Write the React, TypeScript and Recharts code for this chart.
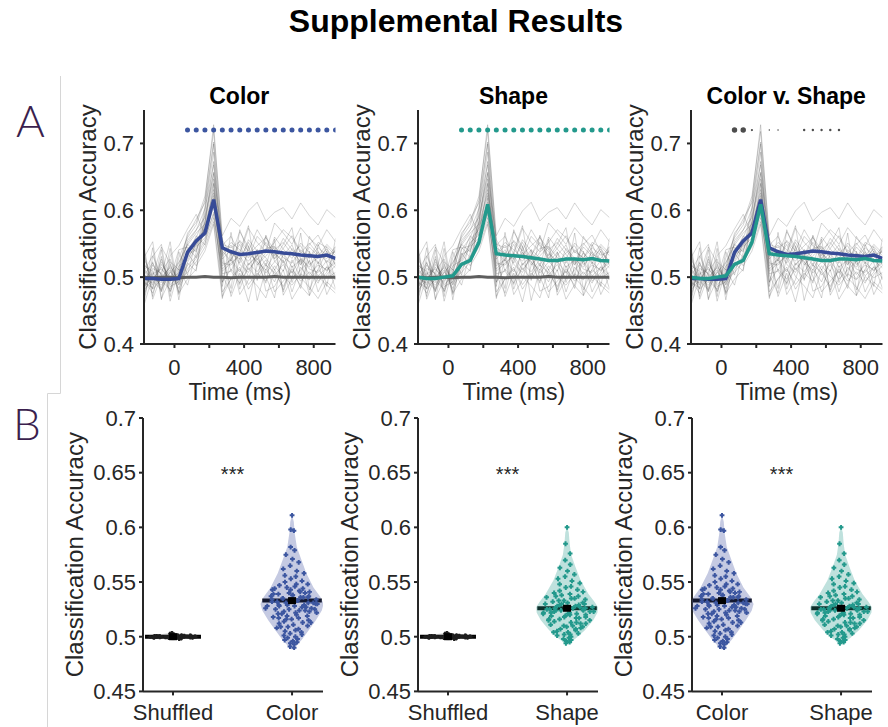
import React from 'react';
import { ComposedChart, Line, Scatter, XAxis, YAxis, ReferenceLine, ReferenceDot } from 'recharts';

// ---------- DATA ----------
const times = [-175, -125, -75, -25, 25, 75, 125, 175, 225, 275, 325, 375, 425, 475, 525, 575, 625, 675, 725, 775, 825, 875, 925];
const colorMean = [0.498, 0.498, 0.497, 0.497, 0.498, 0.537, 0.554, 0.566, 0.616, 0.544, 0.538, 0.534, 0.535, 0.537, 0.539, 0.538, 0.536, 0.535, 0.533, 0.532, 0.531, 0.533, 0.528];
const shapeMean = [0.5, 0.498, 0.498, 0.5, 0.502, 0.519, 0.525, 0.552, 0.609, 0.535, 0.533, 0.532, 0.531, 0.529, 0.527, 0.525, 0.525, 0.527, 0.527, 0.526, 0.528, 0.525, 0.524];
const shuffledMean = [0.5, 0.499, 0.5, 0.5, 0.499, 0.5, 0.5, 0.501, 0.5, 0.5, 0.499, 0.5, 0.5, 0.5, 0.5, 0.501, 0.5, 0.5, 0.5, 0.5, 0.5, 0.5, 0.5];
const subjects = [
  [0.512, 0.488, 0.523, 0.495, 0.507, 0.551, 0.57, 0.602, 0.668, 0.531, 0.548, 0.521, 0.556, 0.539, 0.517, 0.56, 0.542, 0.528, 0.551, 0.537, 0.52, 0.546, 0.532],
  [0.486, 0.507, 0.478, 0.519, 0.492, 0.529, 0.548, 0.583, 0.641, 0.512, 0.527, 0.549, 0.518, 0.532, 0.561, 0.524, 0.509, 0.543, 0.528, 0.515, 0.538, 0.522, 0.541],
  [0.503, 0.521, 0.494, 0.482, 0.515, 0.562, 0.587, 0.611, 0.702, 0.548, 0.561, 0.534, 0.573, 0.552, 0.538, 0.581, 0.566, 0.549, 0.574, 0.558, 0.546, 0.571, 0.553],
  [0.495, 0.476, 0.509, 0.527, 0.488, 0.518, 0.531, 0.556, 0.597, 0.493, 0.512, 0.497, 0.521, 0.508, 0.526, 0.503, 0.519, 0.497, 0.511, 0.524, 0.502, 0.515, 0.498],
  [0.527, 0.501, 0.488, 0.507, 0.522, 0.548, 0.566, 0.579, 0.626, 0.539, 0.524, 0.555, 0.539, 0.571, 0.549, 0.532, 0.558, 0.541, 0.522, 0.549, 0.563, 0.537, 0.525],
  [0.481, 0.496, 0.515, 0.489, 0.501, 0.534, 0.541, 0.568, 0.612, 0.527, 0.541, 0.519, 0.507, 0.533, 0.552, 0.538, 0.521, 0.536, 0.547, 0.519, 0.529, 0.542, 0.517],
  [0.509, 0.532, 0.501, 0.514, 0.478, 0.541, 0.559, 0.592, 0.655, 0.556, 0.532, 0.568, 0.545, 0.518, 0.537, 0.552, 0.571, 0.559, 0.536, 0.551, 0.534, 0.528, 0.546],
  [0.492, 0.484, 0.519, 0.501, 0.496, 0.507, 0.523, 0.545, 0.583, 0.478, 0.497, 0.512, 0.489, 0.506, 0.494, 0.517, 0.501, 0.488, 0.505, 0.496, 0.511, 0.499, 0.507],
  [0.517, 0.509, 0.483, 0.523, 0.511, 0.566, 0.582, 0.621, 0.718, 0.562, 0.588, 0.576, 0.599, 0.612, 0.584, 0.597, 0.604, 0.587, 0.611, 0.592, 0.578, 0.601, 0.589],
  [0.474, 0.513, 0.506, 0.492, 0.517, 0.525, 0.552, 0.563, 0.606, 0.521, 0.518, 0.536, 0.524, 0.541, 0.529, 0.511, 0.533, 0.548, 0.519, 0.536, 0.523, 0.509, 0.527],
  [0.498, 0.491, 0.527, 0.486, 0.493, 0.543, 0.547, 0.574, 0.631, 0.544, 0.535, 0.527, 0.552, 0.526, 0.543, 0.546, 0.529, 0.521, 0.541, 0.528, 0.552, 0.544, 0.519],
  [0.521, 0.498, 0.492, 0.511, 0.483, 0.512, 0.528, 0.551, 0.589, 0.505, 0.509, 0.491, 0.514, 0.497, 0.518, 0.507, 0.486, 0.512, 0.494, 0.508, 0.491, 0.516, 0.503],
  [0.489, 0.518, 0.504, 0.479, 0.506, 0.555, 0.571, 0.589, 0.647, 0.534, 0.552, 0.541, 0.529, 0.561, 0.547, 0.527, 0.543, 0.562, 0.538, 0.529, 0.544, 0.533, 0.538],
  [0.506, 0.482, 0.497, 0.516, 0.498, 0.531, 0.562, 0.548, 0.618, 0.517, 0.526, 0.508, 0.537, 0.522, 0.511, 0.535, 0.524, 0.506, 0.529, 0.512, 0.507, 0.525, 0.514],
  [0.484, 0.505, 0.512, 0.498, 0.521, 0.549, 0.538, 0.581, 0.673, 0.549, 0.544, 0.553, 0.533, 0.547, 0.559, 0.541, 0.552, 0.534, 0.518, 0.545, 0.531, 0.549, 0.536],
  [0.513, 0.494, 0.481, 0.508, 0.489, 0.522, 0.545, 0.559, 0.594, 0.509, 0.521, 0.532, 0.511, 0.528, 0.506, 0.523, 0.537, 0.515, 0.526, 0.504, 0.518, 0.511, 0.522],
  [0.462, 0.531, 0.549, 0.471, 0.538, 0.503, 0.556, 0.571, 0.622, 0.471, 0.498, 0.515, 0.482, 0.503, 0.521, 0.478, 0.494, 0.509, 0.487, 0.472, 0.501, 0.488, 0.476],
  [0.548, 0.467, 0.503, 0.553, 0.474, 0.521, 0.509, 0.598, 0.687, 0.503, 0.476, 0.529, 0.501, 0.487, 0.469, 0.512, 0.481, 0.526, 0.499, 0.485, 0.468, 0.493, 0.481],
  [0.477, 0.544, 0.466, 0.532, 0.547, 0.572, 0.594, 0.562, 0.639, 0.486, 0.567, 0.489, 0.547, 0.465, 0.512, 0.493, 0.526, 0.478, 0.515, 0.497, 0.523, 0.474, 0.501],
  [0.535, 0.482, 0.541, 0.464, 0.512, 0.488, 0.537, 0.605, 0.699, 0.529, 0.483, 0.571, 0.536, 0.524, 0.491, 0.557, 0.473, 0.498, 0.566, 0.481, 0.512, 0.539, 0.496],
  [0.469, 0.523, 0.479, 0.543, 0.466, 0.536, 0.517, 0.539, 0.579, 0.468, 0.531, 0.474, 0.496, 0.541, 0.479, 0.486, 0.511, 0.467, 0.489, 0.526, 0.478, 0.504, 0.517],
  [0.541, 0.471, 0.531, 0.478, 0.529, 0.559, 0.578, 0.615, 0.728, 0.552, 0.509, 0.538, 0.577, 0.495, 0.563, 0.528, 0.549, 0.574, 0.501, 0.561, 0.539, 0.486, 0.558],
  [0.458, 0.502, 0.545, 0.521, 0.476, 0.497, 0.512, 0.583, 0.657, 0.492, 0.538, 0.482, 0.519, 0.533, 0.501, 0.469, 0.538, 0.492, 0.527, 0.473, 0.549, 0.521, 0.483],
  [0.529, 0.553, 0.468, 0.497, 0.541, 0.545, 0.529, 0.576, 0.609, 0.538, 0.471, 0.506, 0.463, 0.518, 0.532, 0.545, 0.478, 0.517, 0.483, 0.539, 0.494, 0.507, 0.545],
];
const sigTimesColor = [75, 125, 175, 225, 275, 325, 375, 425, 475, 525, 575, 625, 675, 725, 775, 825, 875, 925];
const sigTimesShape = [75, 125, 175, 225, 275, 325, 375, 425, 475, 525, 575, 625, 675, 725, 775, 825, 875, 925];
const sigTimesCvS = [75, 125, 175, 275, 325, 475, 525, 575, 625, 675];
const sigSizesCvS = [2.7, 2.7, 1.1, 0.8, 0.8, 1.2, 1.2, 1.2, 1.2, 1.2];
const sigLevel = 0.72;
const timeTicks = [0, 200, 400, 600, 800];
const timeTickLabels = ['0', '', '400', '', '800'];
const accTicksTop = [0.4, 0.5, 0.6, 0.7];
const accTicksBottom = [0.45, 0.5, 0.55, 0.6, 0.65, 0.7];

const colorAcc = [0.611, 0.598, 0.597, 0.582, 0.579, 0.575, 0.571, 0.568, 0.565, 0.562, 0.56, 0.558, 0.556, 0.555, 0.553, 0.551, 0.55, 0.548, 0.547, 0.546, 0.545, 0.544, 0.543, 0.542, 0.541, 0.54, 0.539, 0.538, 0.537, 0.537, 0.536, 0.535, 0.534, 0.534, 0.533, 0.532, 0.531, 0.531, 0.53, 0.529, 0.528, 0.528, 0.527, 0.526, 0.525, 0.525, 0.524, 0.523, 0.522, 0.521, 0.52, 0.519, 0.518, 0.517, 0.516, 0.515, 0.514, 0.513, 0.512, 0.511, 0.51, 0.509, 0.508, 0.507, 0.506, 0.505, 0.504, 0.503, 0.502, 0.501, 0.5, 0.499, 0.498, 0.497, 0.496, 0.495, 0.494, 0.493, 0.491, 0.49, 0.543, 0.541, 0.539, 0.536, 0.535, 0.533, 0.532, 0.53, 0.529, 0.527, 0.526, 0.524, 0.523, 0.521, 0.538, 0.534, 0.529, 0.525, 0.519, 0.517, 0.536, 0.531, 0.528, 0.522, 0.544, 0.54, 0.516, 0.513, 0.509, 0.548];
const shapeAcc = [0.6, 0.585, 0.576, 0.57, 0.566, 0.563, 0.56, 0.557, 0.555, 0.553, 0.551, 0.549, 0.548, 0.546, 0.545, 0.543, 0.542, 0.541, 0.54, 0.539, 0.538, 0.537, 0.536, 0.535, 0.534, 0.533, 0.532, 0.531, 0.53, 0.53, 0.529, 0.528, 0.527, 0.527, 0.526, 0.525, 0.525, 0.524, 0.523, 0.523, 0.522, 0.521, 0.521, 0.52, 0.519, 0.518, 0.517, 0.516, 0.515, 0.514, 0.513, 0.512, 0.511, 0.51, 0.509, 0.508, 0.507, 0.506, 0.505, 0.504, 0.503, 0.502, 0.501, 0.5, 0.499, 0.498, 0.497, 0.496, 0.495, 0.494, 0.528, 0.526, 0.524, 0.522, 0.52, 0.518, 0.529, 0.527, 0.525, 0.523, 0.519, 0.517, 0.515, 0.531, 0.533, 0.535, 0.537, 0.512, 0.51, 0.507, 0.504, 0.502, 0.526, 0.524, 0.521, 0.516, 0.513, 0.509, 0.53, 0.522];
const shuffledAcc = [0.5006, 0.4998, 0.5012, 0.4993, 0.5003, 0.4989, 0.5017, 0.5001, 0.4996, 0.5009, 0.4984, 0.5004, 0.4999, 0.5014, 0.4991, 0.5002, 0.5028, 0.4995, 0.5007, 0.4987, 0.5, 0.5011, 0.4997, 0.5005, 0.4992, 0.5019, 0.4994, 0.5003, 0.4981, 0.5008, 0.4998, 0.5036, 0.5001, 0.499, 0.5013, 0.4996, 0.5004, 0.4986, 0.501, 0.4999, 0.5022, 0.4993, 0.5002, 0.4978, 0.5006, 0.4997, 0.5015, 0.5, 0.4988, 0.5005];
const jitter = [0.12, -0.64, 0.85, -0.33, 0.47, -0.91, 0.05, 0.72, -0.18, -0.77, 0.39, 0.93, -0.52, 0.26, -0.08, 0.61, -0.42, 0.88, -0.69, 0.15, -0.27, 0.54, -0.95, 0.34, 0.79, -0.13, -0.58, 0.02, 0.67, -0.84, 0.44, -0.36, 0.91, -0.05, 0.21, -0.73, 0.58, -0.22, 0.83, -0.47, 0.09, -0.89, 0.36, 0.71, -0.61, -0.11, 0.49, -0.31, 0.96, -0.56, 0.18, 0.64, -0.81, 0.29, -0.02, 0.77, -0.39, 0.53, -0.67, 0.07, 0.87, -0.24, -0.93, 0.41, 0.23, -0.49, 0.69, -0.15, 0.81, -0.71, 0.31, -0.44, 0.59, -0.86, 0.11, 0.74, -0.28, 0.46, -0.63, 0.97, -0.07, 0.37, -0.79, 0.62, -0.35, 0.19, -0.54, 0.89, -0.17, 0.51, -0.97, 0.27, 0.66, -0.41, 0.03, -0.75, 0.43, 0.84, -0.21, -0.59, 0.33, 0.76, -0.46, 0.14, -0.87, 0.57, -0.26, 0.94, -0.66, 0.24];

const colorViolinY = [0.488, 0.491, 0.497, 0.506, 0.515, 0.524, 0.53, 0.536, 0.545, 0.558, 0.57, 0.582, 0.595, 0.605, 0.612];
const colorViolinW = [0, 0.03, 0.08, 0.14, 0.2, 0.25, 0.265, 0.24, 0.18, 0.12, 0.08, 0.04, 0.022, 0.015, 0];
const shapeViolinY = [0.493, 0.495, 0.499, 0.506, 0.515, 0.522, 0.527, 0.532, 0.539, 0.5515, 0.564, 0.575, 0.585, 0.595, 0.601];
const shapeViolinW = [0, 0.03, 0.08, 0.15, 0.22, 0.255, 0.26, 0.23, 0.18, 0.115, 0.07, 0.035, 0.022, 0.015, 0];
const shuffledViolinY = [0.4965, 0.4978, 0.4988, 0.5, 0.5012, 0.5022, 0.5035, 0.5045];
const shuffledViolinW = [0, 0.08, 0.19, 0.235, 0.19, 0.1, 0.03, 0];
const colorGroupMean = 0.533;
const shapeGroupMean = 0.526;
const shuffledGroupMean = 0.5;
const starLevel = 0.649;

// ---------- STYLE ----------
const FONT = '"Liberation Sans", Arial, Helvetica, sans-serif';
const AX = '#262626';
const BLUE = '#374b97';
const BLUE_PT = '#3c56a0';
const TEAL = '#23998c';
const GRAY_MEAN = '#5e5e5e';
const TOP_YW = 84;
const BOT_YW = 92;

function halfWidthAt(vy: number[], vw: number[], y: number) {
  if (y <= vy[0] || y >= vy[vy.length - 1]) return 0;
  for (let i = 1; i < vy.length; i++) {
    if (y <= vy[i]) {
      const f = (y - vy[i - 1]) / (vy[i] - vy[i - 1]);
      return vw[i - 1] + f * (vw[i] - vw[i - 1]);
    }
  }
  return 0;
}

const yLabel = (fromAxis: number) => (props: any) => {
  const vb = props.viewBox || {};
  const x = vb.x + vb.width - fromAxis;
  const y = vb.y + vb.height / 2;
  return (
    <text x={x} y={y} transform={`rotate(-90, ${x}, ${y})`} textAnchor="middle" fontSize={24} fill={AX} fontFamily={FONT}>
      Classification Accuracy
    </text>
  );
};

const xLabel = (props: any) => {
  const vb = props.viewBox || {};
  return (
    <text x={vb.x + vb.width / 2} y={vb.y + 56} textAnchor="middle" fontSize={23} fill={AX} fontFamily={FONT}>
      Time (ms)
    </text>
  );
};

const SigDot = (p: any) => <circle cx={p.cx} cy={p.cy} r={p.payload.r} fill={p.fill} />;
const Empty = () => <g />;
const Plus = (p: any) => {
  const s = p.payload.s;
  return <path d={`M${p.cx - s},${p.cy}H${p.cx + s}M${p.cx},${p.cy - s}V${p.cy + s}`} stroke={p.fill} strokeWidth={2} />;
};
const MeanMark = (p: any) => <rect x={p.cx - 4} y={p.cy - 3.5} width={8} height={7} fill="#000" />;

const axisCommon = {
  stroke: AX,
  axisLine: { stroke: AX, strokeWidth: 2 },
  tickLine: { stroke: AX, strokeWidth: 2 },
  tickSize: 4,
};

type MeanSpec = { key: string; color: string };

function TopPanel(props: { left: number; means: MeanSpec[]; showShuffled: boolean; sigTimes: number[]; sigSizes: number[]; sigColor: string }) {
  const { left, means, showShuffled, sigTimes, sigSizes, sigColor } = props;
  const rows = times.map((t, i) => {
    const r: any = { t, shuf: shuffledMean[i], color: colorMean[i], shape: shapeMean[i] };
    subjects.forEach((s, j) => {
      r['s' + j] = s[i];
    });
    return r;
  });
  const sigData = sigTimes.map((t, i) => ({ t, sig: sigLevel, r: sigSizes[i] }));
  return (
    <div style={{ position: 'absolute', left: left - TOP_YW, top: 90 }}>
      <ComposedChart width={TOP_YW + 191.5 + 12} height={324} data={rows} margin={{ top: 20, right: 12, left: 0, bottom: 0 }}>
        <XAxis
          type="number"
          dataKey="t"
          domain={[-175, 925]}
          allowDataOverflow
          ticks={timeTicks}
          interval={0}
          tickFormatter={(v: number) => timeTickLabels[timeTicks.indexOf(v)] ?? ''}
          height={70}
          tickMargin={11}
          tick={{ fontSize: 22, fill: AX, fontFamily: FONT }}
          label={xLabel}
          {...axisCommon}
        />
        <YAxis
          type="number"
          domain={[0.4, 0.75]}
          allowDataOverflow
          ticks={accTicksTop}
          interval={0}
          width={TOP_YW}
          tickMargin={6}
          tick={{ fontSize: 22, fill: AX, fontFamily: FONT }}
          label={yLabel(48.5)}
          {...axisCommon}
        />
        {subjects.map((_, j) => (
          <Line key={'s' + j} dataKey={'s' + j} stroke="#3a3a3a" strokeOpacity={0.24} strokeWidth={0.9} dot={false} activeDot={false} isAnimationActive={false} />
        ))}
        {showShuffled && <Line dataKey="shuf" stroke={GRAY_MEAN} strokeWidth={3} dot={false} activeDot={false} isAnimationActive={false} />}
        {means.map((m) => (
          <Line key={m.key} dataKey={m.key} stroke={m.color} strokeWidth={3.5} dot={false} activeDot={false} isAnimationActive={false} />
        ))}
        <Scatter data={sigData} dataKey="sig" fill={sigColor} shape={SigDot} isAnimationActive={false} />
      </ComposedChart>
    </div>
  );
}

type Group = { name: string; values: number[]; vy: number[]; vw: number[]; mean: number; color: string; fill: string; fillOpacity: number; size: number; meanHalf: number };

function BottomPanel(props: { left: number; groups: Group[] }) {
  const { left, groups } = props;
  return (
    <div style={{ position: 'absolute', left: left - BOT_YW, top: 398.3 }}>
      <ComposedChart width={BOT_YW + 190} height={328.7} margin={{ top: 20, right: 10, left: 0, bottom: 0 }}>
        <XAxis
          type="number"
          dataKey="x"
          domain={[0.748, 2.26]}
          allowDataOverflow
          ticks={[1, 2]}
          interval={0}
          tickFormatter={(v: number) => groups[v - 1]?.name ?? ''}
          height={35.3}
          tickMargin={9}
          tick={{ fontSize: 22, fill: AX, fontFamily: FONT }}
          {...axisCommon}
        />
        <YAxis
          type="number"
          dataKey="y"
          domain={[0.45, 0.7]}
          allowDataOverflow
          ticks={accTicksBottom}
          interval={0}
          width={BOT_YW}
          tickMargin={3}
          tick={{ fontSize: 22, fill: AX, fontFamily: FONT }}
          label={yLabel(60)}
          {...axisCommon}
        />
        {groups.map((g, gi) => {
          const c = gi + 1;
          const outline = [
            ...g.vy.map((y, i) => ({ x: c + g.vw[i], y })),
            ...g.vy.map((y, i) => ({ x: c - g.vw[i], y })).reverse(),
          ];
          return (
            <Scatter
              key={'v' + gi}
              data={outline}
              dataKey="y"
              fill={g.fill}
              line={{ fill: g.fill, fillOpacity: g.fillOpacity, stroke: 'none' }}
              lineType="joint"
              shape={Empty}
              isAnimationActive={false}
            />
          );
        })}
        {groups.map((g, gi) => {
          const c = gi + 1;
          const pts = g.values.map((v, i) => ({ x: c + jitter[i % jitter.length] * halfWidthAt(g.vy, g.vw, v) * 0.9, y: v, s: g.size }));
          return <Scatter key={'p' + gi} data={pts} dataKey="y" fill={g.color} shape={Plus} isAnimationActive={false} />;
        })}
        {groups.map((g, gi) => (
          <ReferenceLine
            key={'m' + gi}
            segment={[
              { x: gi + 1 - g.meanHalf, y: g.mean },
              { x: gi + 1 + g.meanHalf, y: g.mean },
            ]}
            stroke="#000"
            strokeWidth={4}
          />
        ))}
        <Scatter data={groups.map((g, gi) => ({ x: gi + 1, y: g.mean }))} dataKey="y" fill="#000" shape={MeanMark} isAnimationActive={false} />
        <ReferenceDot x={1.5} y={starLevel} r={0} fill="none" stroke="none" label={{ value: '***', position: 'center', fontSize: 20, fill: AX, fontFamily: FONT }} />
      </ComposedChart>
    </div>
  );
}

const shuffledGroup: Group = { name: 'Shuffled', values: shuffledAcc, vy: shuffledViolinY, vw: shuffledViolinW, mean: shuffledGroupMean, color: '#1e1e1e', fill: '#555', fillOpacity: 0.25, size: 1.8, meanHalf: 0.235 };
const colorGroup: Group = { name: 'Color', values: colorAcc, vy: colorViolinY, vw: colorViolinW, mean: colorGroupMean, color: BLUE_PT, fill: '#3f51a0', fillOpacity: 0.3, size: 2.4, meanHalf: 0.25 };
const shapeGroup: Group = { name: 'Shape', values: shapeAcc, vy: shapeViolinY, vw: shapeViolinW, mean: shapeGroupMean, color: TEAL, fill: '#2a9d8f', fillOpacity: 0.3, size: 2.4, meanHalf: 0.25 };

export default function App() {
  const topLefts = [143.5, 417.7, 690.5];
  const botLefts = [143.3, 417.7, 691.5];
  const titles = ['Color', 'Shape', 'Color v. Shape'];
  return (
    <div style={{ position: 'absolute', left: 0, top: 0, width: 888, height: 727, overflow: 'hidden', background: '#fff' }}>
      <svg width={888} height={727} style={{ position: 'absolute', left: 0, top: 0 }}>
        <text x={456} y={32} textAnchor="middle" fontSize={32} fontWeight="bold" fontFamily={FONT} fill="#000">
          Supplemental Results
        </text>
        {titles.map((t, i) => (
          <text key={t} x={topLefts[i] + 95.75} y={104} textAnchor="middle" fontSize={23} fontWeight="bold" fontFamily={FONT} fill="#000">
            {t}
          </text>
        ))}
        <text x={16} y={137} fontSize={44} fontWeight={300} fontFamily="Lato, 'Open Sans', sans-serif" fill="#3b1f4e">
          A
        </text>
        <text x={13} y={440} fontSize={44} fontWeight={300} fontFamily="Lato, 'Open Sans', sans-serif" fill="#3b1f4e">
          B
        </text>
        <polyline points="60.5,76 60.5,393.5 47.5,393.5 47.5,727" fill="none" stroke="#d6d6d6" strokeWidth={1} />
      </svg>
      <TopPanel left={topLefts[0]} means={[{ key: 'color', color: BLUE }]} showShuffled sigTimes={sigTimesColor} sigSizes={sigTimesColor.map(() => 2.5)} sigColor={BLUE_PT} />
      <TopPanel left={topLefts[1]} means={[{ key: 'shape', color: TEAL }]} showShuffled sigTimes={sigTimesShape} sigSizes={sigTimesShape.map(() => 2.5)} sigColor={TEAL} />
      <TopPanel left={topLefts[2]} means={[{ key: 'color', color: BLUE }, { key: 'shape', color: TEAL }]} showShuffled={false} sigTimes={sigTimesCvS} sigSizes={sigSizesCvS} sigColor="#4d4d4d" />
      <BottomPanel left={botLefts[0]} groups={[shuffledGroup, colorGroup]} />
      <BottomPanel left={botLefts[1]} groups={[shuffledGroup, shapeGroup]} />
      <BottomPanel left={botLefts[2]} groups={[colorGroup, shapeGroup]} />
    </div>
  );
}
